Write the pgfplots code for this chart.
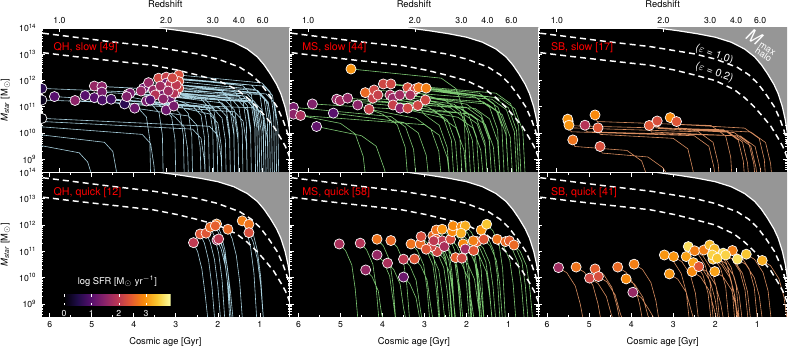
\documentclass[border=0pt]{standalone}
\usepackage{fontspec}
\setmainfont{TeX Gyre Heros}
\usepackage{pgfplots}
\pgfplotsset{compat=1.18}
\definecolor{haloGray}{RGB}{150,150,150}
\definecolor{qhc}{RGB}{168,208,222}
\definecolor{msc}{RGB}{125,200,115}
\definecolor{sbc}{RGB}{215,140,95}
\pgfplotsset{colormap={inferno}{rgb255=(0,0,4) rgb255=(31,12,72) rgb255=(85,15,109) rgb255=(136,34,106) rgb255=(186,54,85) rgb255=(227,89,51) rgb255=(249,140,10) rgb255=(249,201,50) rgb255=(252,255,164)}}
\tikzset{ttl/.style={anchor=west, text=red, font=\fontsize{8}{9}\selectfont}}
\pgfplotsset{
 panel/.style={
   scale only axis, width=186.5pt, height=108.375pt, anchor=north west,
   xmin=0.29, xmax=6.21, x dir=reverse, ymin=8.5, ymax=14,
   axis background/.style={fill=black},
   axis line style={white, line width=0.5pt},
   tick style={white, line width=0.5pt},
   major tick length=3pt, minor tick length=1.6pt,
   clip marker paths=true,
   ytick={9,10,11,12,13,14},
   minor ytick={8.602,8.699,8.778,8.845,8.903,8.954,9.301,9.477,9.602,9.699,9.778,9.845,9.903,9.954,10.301,10.477,10.602,10.699,10.778,10.845,10.903,10.954,11.301,11.477,11.602,11.699,11.778,11.845,11.903,11.954,12.301,12.477,12.602,12.699,12.778,12.845,12.903,12.954,13.301,13.477,13.602,13.699,13.778,13.845,13.903,13.954},
   yticklabels={}, xticklabels={},
   tick label style={font=\fontsize{6.5}{7}\selectfont, black},
   label style={font=\fontsize{7}{8}\selectfont},
   unbounded coords=jump,
   point meta min=0, point meta max=3.9, colormap name=inferno,
 },
 leftcol/.style={
   yticklabels={10\textsuperscript{9},10\textsuperscript{10},10\textsuperscript{11},10\textsuperscript{12},10\textsuperscript{13},10\textsuperscript{14}},
   ylabel={\textit{M}\textsubscript{\textit{star}} [M\textsubscript{$\odot$}]},
 },
 toprow/.style={xtick={5.77,3.23,2.12,1.50,0.93}, xticklabels={1.0,2.0,3.0,4.0,6.0}, xticklabel pos=upper, xlabel={Redshift}},
 botrow/.style={xtick={1,2,3,4,5,6}, xticklabels={1,2,3,4,5,6}, minor x tick num=1, xlabel={Cosmic age [Gyr]}},
 track/.style={line width=0.45pt},
 dots/.style={scatter, only marks, mark=*, mark size=3.8pt, point meta=explicit,
   scatter/use mapped color={draw=white, fill=mapped color, line width=0.5pt}},
}
\newcommand{\halofill}{%
\addplot[draw=none, fill=haloGray] coordinates {(6.4,14.75) (5.5,14.55) (4.5,14.32) (3.9,14.15) (3.37,14.0) (2.9,13.9) (2.42,13.78) (2.0,13.65) (1.62,13.46) (1.3,13.2) (1.06,12.9) (0.9,12.6) (0.75,12.25) (0.6,11.85) (0.5,11.5) (0.4,11.0) (0.33,10.5) (0.29,10.1) (0.25,9.5) (0.1,9.5) (0.1,15) (6.4,15)};
}
\newcommand{\halolines}{%
\addplot[white, line width=0.9pt] coordinates {(6.4,14.75) (5.5,14.55) (4.5,14.32) (3.9,14.15) (3.37,14.0) (2.9,13.9) (2.42,13.78) (2.0,13.65) (1.62,13.46) (1.3,13.2) (1.06,12.9) (0.9,12.6) (0.75,12.25) (0.6,11.85) (0.5,11.5) (0.4,11.0) (0.33,10.5) (0.29,10.1) (0.25,9.5)};
\addplot[white, line width=1.1pt, dash pattern=on 4.5pt off 3pt] coordinates {(6.4,13.85) (6.16,13.80) (5.5,13.67) (4.56,13.48) (3.54,13.29) (2.97,13.14) (2.51,13.02) (2.0,12.82) (1.47,12.50) (1.2,12.22) (0.99,11.90) (0.8,11.5) (0.59,11.0) (0.45,10.5) (0.36,10.1) (0.27,9.5) (0.22,9.0)};
\addplot[white, line width=1.1pt, dash pattern=on 4.5pt off 3pt] coordinates {(6.4,13.10) (6.16,13.06) (5.5,12.93) (4.56,12.76) (3.54,12.58) (2.97,12.40) (2.51,12.22) (2.0,12.00) (1.55,11.66) (1.3,11.35) (1.07,11.0) (0.85,10.6) (0.67,10.25) (0.5,9.8) (0.39,9.49) (0.27,9.0) (0.2,8.5)};
}
\begin{document}
\begin{tikzpicture}
\useasboundingbox (0,0) rectangle (594.75pt,260.25pt);
% ---------------- Panel 1: QH slow
\begin{axis}[panel, leftcol, toprow, at={(30.75pt,239.25pt)}]
\halofill
\addplot[track, qhc] coordinates {
(6.19,11.70) (1.50,11.40) (1.30,11.05) (1.22,10.20) (1.20,8.3) (nan,nan)
(6.19,11.26) (1.10,10.96) (0.90,10.61) (0.82,9.76) (0.80,8.3) (nan,nan)
(6.19,10.56) (2.20,10.26) (2.00,9.91) (1.92,9.06) (1.90,8.3) (nan,nan)
(5.89,11.39) (2.90,11.09) (2.70,10.74) (2.62,9.89) (2.60,8.3) (nan,nan)
(5.40,11.24) (1.80,10.94) (1.60,10.59) (1.52,9.74) (1.50,8.3) (nan,nan)
(5.16,11.43) (3.60,11.13) (3.40,10.78) (3.32,9.93) (3.30,8.3) (nan,nan)
(4.94,11.79) (1.30,11.49) (1.10,11.14) (1.02,10.29) (1.00,8.3) (nan,nan)
(4.94,11.35) (2.50,11.05) (2.30,10.70) (2.22,9.85) (2.20,8.3) (nan,nan)
(4.76,11.77) (1.00,11.47) (0.80,11.12) (0.72,10.27) (0.70,8.3) (nan,nan)
(4.76,11.56) (2.00,11.26) (1.80,10.91) (1.72,10.06) (1.70,8.3) (nan,nan)
(4.75,11.26) (3.90,10.96) (3.70,10.61) (3.62,9.76) (3.60,8.3) (nan,nan)
(4.54,11.29) (2.30,10.99) (2.10,10.64) (2.02,9.79) (2.00,8.3) (nan,nan)
(4.22,11.11) (1.60,10.81) (1.40,10.46) (1.32,9.61) (1.30,8.3) (nan,nan)
(4.14,11.48) (1.20,11.18) (1.00,10.83) (0.92,9.98) (0.90,8.3) (nan,nan)
(3.98,10.95) (2.70,10.65) (2.50,10.30) (2.42,9.45) (2.40,8.3) (nan,nan)
(3.77,11.71) (1.40,11.41) (1.20,11.06) (1.12,10.21) (1.10,8.3) (nan,nan)
(3.65,11.92) (1.05,11.62) (0.85,11.27) (0.77,10.42) (0.75,8.3) (nan,nan)
(3.70,11.22) (2.10,10.92) (1.90,10.57) (1.82,9.72) (1.80,8.3) (nan,nan)
(3.53,11.64) (1.70,11.34) (1.50,10.99) (1.42,10.14) (1.40,8.3) (nan,nan)
(3.41,12.09) (0.90,11.79) (0.70,11.44) (0.62,10.59) (0.60,8.3) (nan,nan)
(3.23,12.13) (1.20,11.83) (1.00,11.48) (0.92,10.63) (0.90,8.3) (nan,nan)
(3.23,11.90) (1.90,11.60) (1.70,11.25) (1.62,10.40) (1.60,8.3) (nan,nan)
(3.37,11.58) (2.30,11.28) (2.10,10.93) (2.02,10.08) (2.00,8.3) (nan,nan)
(3.29,11.52) (1.50,11.22) (1.30,10.87) (1.22,10.02) (1.20,8.3) (nan,nan)
(3.13,11.33) (2.60,11.03) (2.40,10.68) (2.32,9.83) (2.30,8.3) (nan,nan)
(3.01,11.52) (1.15,11.22) (0.95,10.87) (0.87,10.02) (0.85,8.3) (nan,nan)
(3.23,10.88) (3.00,10.58) (2.80,10.23) (2.72,9.38) (2.70,8.3) (nan,nan)
(3.05,11.03) (2.20,10.73) (2.00,10.38) (1.92,9.53) (1.90,8.3) (nan,nan)
(2.93,12.21) (0.95,11.91) (0.75,11.56) (0.67,10.71) (0.65,8.3) (nan,nan)
(2.93,11.96) (1.10,11.66) (0.90,11.31) (0.82,10.46) (0.80,8.3) (nan,nan)
(2.93,11.71) (1.35,11.41) (1.15,11.06) (1.07,10.21) (1.05,8.3) (nan,nan)
(3.05,11.52) (1.80,11.22) (1.60,10.87) (1.52,10.02) (1.50,8.3) (nan,nan)
(3.13,11.87) (1.60,11.57) (1.40,11.22) (1.32,10.37) (1.30,8.3) (nan,nan)
(2.99,11.83) (1.00,11.53) (0.80,11.18) (0.72,10.33) (0.70,8.3) (nan,nan)
(3.18,11.60) (2.40,11.30) (2.20,10.95) (2.12,10.10) (2.10,8.3) (nan,nan)
(3.49,11.45) (1.90,11.15) (1.70,10.80) (1.62,9.95) (1.60,8.3) (nan,nan)
(4.09,11.52) (1.30,11.22) (1.10,10.87) (1.02,10.02) (1.00,8.3) (nan,nan)
(4.17,11.39) (3.10,11.09) (2.90,10.74) (2.82,9.89) (2.80,8.3) (nan,nan)
(3.83,11.60) (1.25,11.30) (1.05,10.95) (0.97,10.10) (0.95,8.3) (nan,nan)
(3.08,12.10) (1.40,11.80) (1.20,11.45) (1.12,10.60) (1.10,8.3) (nan,nan)
(3.37,11.79) (0.85,11.49) (0.65,11.14) (0.57,10.29) (0.55,8.3) (nan,nan)
(3.30,11.30) (2.00,11.00) (1.80,10.65) (1.72,9.80) (1.70,8.3) (nan,nan)
(3.61,11.26) (3.30,10.96) (3.10,10.61) (3.02,9.76) (3.00,8.3) (nan,nan)
(6.30,10.25) (3.80,9.95) (3.60,9.60) (3.52,8.75) (3.50,8.3) (nan,nan)
(6.30,9.95) (4.70,9.65) (4.50,9.30) (4.42,8.60) (4.40,8.3) (nan,nan)
(6.30,9.55) (5.30,9.25) (5.10,8.90) (5.02,8.50) (5.00,8.3) (nan,nan)
(6.30,10.45) (2.60,10.15) (2.40,9.80) (2.32,8.95) (2.30,8.3)
};
\halolines
\addplot[dots] coordinates {
(6.19,11.70) [0.6] (6.19,11.26) [0.2] (6.19,10.56) [0.0] (5.89,11.39) [1.0] (5.40,11.24) [1.5]
(5.16,11.43) [1.0] (4.94,11.79) [1.6] (4.94,11.35) [1.0] (4.76,11.77) [1.5] (4.76,11.56) [1.3]
(4.75,11.26) [0.9] (4.54,11.29) [0.8] (4.22,11.11) [0.6] (4.14,11.48) [1.5] (3.98,10.95) [1.2]
(3.77,11.71) [1.2] (3.65,11.92) [1.6] (3.70,11.22) [1.3] (3.53,11.64) [1.6] (3.41,12.09) [2.2]
(3.23,12.13) [2.1] (3.23,11.90) [1.3] (3.37,11.58) [1.8] (3.29,11.52) [1.3] (3.13,11.33) [1.2]
(3.01,11.52) [1.4] (3.23,10.88) [1.2] (3.05,11.03) [1.3] (2.93,12.21) [2.3] (2.93,11.96) [2.3]
(2.93,11.71) [2.2] (3.05,11.52) [1.9] (3.13,11.87) [1.9] (2.99,11.83) [2.0] (3.18,11.60) [1.7]
(3.49,11.45) [1.9] (4.09,11.52) [1.3] (4.17,11.39) [1.4] (3.83,11.60) [1.6] (3.08,12.10) [2.2]
(3.37,11.79) [1.7] (3.30,11.30) [1.5] (3.61,11.26) [1.0]
};
\node[ttl] at (rel axis cs:0.032,0.862) {QH, slow [49]};
\end{axis}
% ---------------- Panel 2: MS slow
\begin{axis}[panel, toprow, at={(217.25pt,239.25pt)}]
\halofill
\addplot[track, msc] coordinates {
(4.75,12.44) (2.60,12.09) (2.25,11.69) (2.06,10.84) (2.00,8.3) (nan,nan)
(6.12,10.98) (3.80,10.63) (3.45,10.23) (3.26,9.38) (3.20,8.3) (nan,nan)
(6.12,10.72) (5.00,10.37) (4.65,9.97) (4.46,9.12) (4.40,8.3) (nan,nan)
(5.95,10.67) (3.00,10.32) (2.65,9.92) (2.46,9.07) (2.40,8.3) (nan,nan)
(5.67,11.11) (2.10,10.76) (1.75,10.36) (1.56,9.51) (1.50,8.3) (nan,nan)
(5.57,10.25) (4.50,9.90) (4.15,9.50) (3.96,8.65) (3.90,8.3) (nan,nan)
(5.17,10.76) (3.50,10.41) (3.15,10.01) (2.96,9.16) (2.90,8.3) (nan,nan)
(5.09,11.29) (1.80,10.94) (1.45,10.54) (1.26,9.69) (1.20,8.3) (nan,nan)
(5.01,11.24) (2.80,10.89) (2.45,10.49) (2.26,9.64) (2.20,8.3) (nan,nan)
(4.83,11.33) (2.40,10.98) (2.05,10.58) (1.86,9.73) (1.80,8.3) (nan,nan)
(4.59,11.07) (4.00,10.72) (3.65,10.32) (3.46,9.47) (3.40,8.3) (nan,nan)
(4.41,11.54) (1.60,11.19) (1.25,10.79) (1.06,9.94) (1.00,8.3) (nan,nan)
(4.32,10.91) (3.20,10.56) (2.85,10.16) (2.66,9.31) (2.60,8.3) (nan,nan)
(4.23,11.33) (2.00,10.98) (1.65,10.58) (1.46,9.73) (1.40,8.3) (nan,nan)
(4.20,11.64) (1.40,11.29) (1.05,10.89) (0.86,10.04) (0.80,8.3) (nan,nan)
(4.11,11.45) (2.70,11.10) (2.35,10.70) (2.16,9.85) (2.10,8.3) (nan,nan)
(3.98,11.87) (1.70,11.52) (1.35,11.12) (1.16,10.27) (1.10,8.3) (nan,nan)
(3.80,11.87) (1.30,11.52) (0.95,11.12) (0.76,10.27) (0.70,8.3) (nan,nan)
(3.82,11.45) (2.30,11.10) (1.95,10.70) (1.76,9.85) (1.70,8.3) (nan,nan)
(3.75,11.33) (2.90,10.98) (2.55,10.58) (2.36,9.73) (2.30,8.3) (nan,nan)
(3.75,11.07) (1.90,10.72) (1.55,10.32) (1.36,9.47) (1.30,8.3) (nan,nan)
(3.59,11.45) (1.50,11.10) (1.15,10.70) (0.96,9.85) (0.90,8.3) (nan,nan)
(3.58,10.95) (2.60,10.60) (2.25,10.20) (2.06,9.35) (2.00,8.3) (nan,nan)
(3.40,11.73) (1.80,11.38) (1.45,10.98) (1.26,10.13) (1.20,8.3) (nan,nan)
(3.40,10.95) (2.20,10.60) (1.85,10.20) (1.66,9.35) (1.60,8.3) (nan,nan)
(3.27,11.58) (2.50,11.23) (2.15,10.83) (1.96,9.98) (1.90,8.3) (nan,nan)
(3.22,11.68) (1.20,11.33) (0.85,10.93) (0.66,10.08) (0.60,8.3) (nan,nan)
(3.14,11.73) (1.60,11.38) (1.25,10.98) (1.06,10.13) (1.00,8.3) (nan,nan)
(2.96,11.71) (1.35,11.36) (1.00,10.96) (0.81,10.11) (0.75,8.3) (nan,nan)
(2.98,11.26) (2.10,10.91) (1.75,10.51) (1.56,9.66) (1.50,8.3) (nan,nan)
(3.16,11.05) (3.00,10.70) (2.65,10.30) (2.46,9.45) (2.40,8.3) (nan,nan)
(3.34,11.45) (2.00,11.10) (1.65,10.70) (1.46,9.85) (1.40,8.3)
};
\halolines
\addplot[dots] coordinates {
(4.75,12.44) [3.0] (6.12,10.98) [1.3] (6.12,10.72) [1.5] (5.95,10.67) [1.8] (5.67,11.11) [1.4]
(5.57,10.25) [1.1] (5.17,10.76) [1.0] (5.09,11.29) [1.6] (5.01,11.24) [1.7] (4.83,11.33) [1.6]
(4.59,11.07) [1.5] (4.41,11.54) [2.6] (4.32,10.91) [2.1] (4.23,11.33) [2.1] (4.20,11.64) [2.2]
(4.11,11.45) [2.1] (3.98,11.87) [2.2] (3.80,11.87) [2.2] (3.82,11.45) [1.8] (3.75,11.33) [1.6]
(3.75,11.07) [2.1] (3.59,11.45) [1.7] (3.58,10.95) [1.5] (3.40,11.73) [2.3] (3.40,10.95) [2.2]
(3.27,11.58) [1.9] (3.22,11.68) [2.2] (3.14,11.73) [2.7] (2.96,11.71) [2.8] (2.98,11.26) [2.2]
(3.16,11.05) [2.2] (3.34,11.45) [1.8]
};
\node[ttl] at (rel axis cs:0.032,0.862) {MS, slow [44]};
\end{axis}
% ---------------- Panel 3: SB slow
\begin{axis}[panel, toprow, at={(403.75pt,239.25pt)}]
\halofill
\addplot[track, sbc] coordinates {
(5.51,10.53) (5.46,10.28) (1.80,10.13) (1.45,9.73) (1.33,8.93) (1.30,8.3) (nan,nan)
(5.48,10.30) (5.43,10.05) (2.50,9.90) (2.15,9.50) (2.03,8.70) (2.00,8.3) (nan,nan)
(5.10,10.30) (5.05,10.05) (1.50,9.90) (1.15,9.50) (1.03,8.70) (1.00,8.3) (nan,nan)
(4.86,10.69) (4.81,10.44) (2.10,10.29) (1.75,9.89) (1.63,9.09) (1.60,8.3) (nan,nan)
(4.79,10.20) (4.74,9.95) (3.00,9.80) (2.65,9.40) (2.53,8.60) (2.50,8.3) (nan,nan)
(5.39,9.74) (5.34,9.49) (4.10,9.34) (3.75,8.94) (3.63,8.40) (3.60,8.3) (nan,nan)
(4.74,9.49) (4.69,9.24) (3.60,9.09) (3.25,8.69) (3.13,8.40) (3.10,8.3) (nan,nan)
(3.57,10.29) (3.52,10.04) (1.40,9.89) (1.05,9.49) (0.93,8.69) (0.90,8.3) (nan,nan)
(3.38,10.46) (3.33,10.21) (1.70,10.06) (1.35,9.66) (1.23,8.86) (1.20,8.3) (nan,nan)
(3.07,10.59) (3.02,10.34) (1.30,10.19) (0.95,9.79) (0.83,8.99) (0.80,8.3) (nan,nan)
(2.92,10.44) (2.87,10.19) (1.15,10.04) (0.80,9.64) (0.68,8.84) (0.65,8.3) (nan,nan)
(5.50,10.45) (5.45,10.20) (2.40,10.05) (2.05,9.65) (1.93,8.85) (1.90,8.3) (nan,nan)
(3.40,10.42) (3.35,10.17) (1.55,10.02) (1.20,9.62) (1.08,8.82) (1.05,8.3)
};
\halolines
\addplot[dots] coordinates {
(5.50,10.45) [3.0] (3.40,10.42) [2.3]
(5.51,10.53) [3.0] (5.48,10.30) [3.0] (5.10,10.30) [1.9] (4.86,10.69) [2.9] (4.79,10.20) [2.4]
(5.39,9.74) [2.7] (4.74,9.49) [2.3] (3.57,10.29) [2.4] (3.38,10.46) [2.3] (3.07,10.59) [2.9]
(2.92,10.44) [2.4]
};
\node[ttl] at (rel axis cs:0.032,0.862) {SB, slow [17]};
\node[white, rotate=-20, font=\fontsize{8}{9}\selectfont] at (axis cs:2.02,12.99) {($\varepsilon$ = 1.0)};
\node[white, rotate=-20, font=\fontsize{8}{9}\selectfont] at (axis cs:2.02,12.30) {($\varepsilon$ = 0.2)};
\node[white, rotate=-32, inner sep=0pt] at (axis cs:0.94,13.32) {\fontsize{13}{13}\selectfont\textit{M}\kern0.6pt\raisebox{-3pt}{\fontsize{7}{7}\selectfont\begin{tabular}{@{}l@{}}max\\[-1.5pt]halo\end{tabular}}};
\end{axis}
% ---------------- Panel 4: QH quick
\begin{axis}[panel, leftcol, botrow, at={(30.75pt,130.875pt)},
  colorbar horizontal,
  colorbar style={at={(parent axis.south west)}, anchor=south west, xshift=17.25pt, yshift=17.25pt,
    scale only axis, width=80pt, height=8.25pt,
    xtick={0,1,2,3}, xticklabels={0,1,2,3},
    xticklabel style={white, font=\fontsize{6.5}{7}\selectfont},
    major tick length=2pt, tick style={white},
    axis line style={draw=none},
    title={log SFR [M\textsubscript{$\odot$} yr\textsuperscript{$-$1}]},
    title style={white, font=\fontsize{7}{8}\selectfont, yshift=-4pt}}]
\halofill
\addplot[track, qhc] coordinates {
(2.58,11.33) (2.48,10.98) (2.38,10.33) (2.30,9.33) (2.23,8.3) (nan,nan)
(2.42,11.66) (2.32,11.31) (2.22,10.66) (2.14,9.66) (2.07,8.3) (nan,nan)
(2.28,11.69) (2.18,11.34) (2.08,10.69) (2.00,9.69) (1.93,8.3) (nan,nan)
(2.18,11.92) (2.08,11.57) (1.98,10.92) (1.90,9.92) (1.83,8.3) (nan,nan)
(2.03,12.04) (1.93,11.69) (1.83,11.04) (1.75,10.04) (1.68,8.3) (nan,nan)
(2.02,11.43) (1.92,11.08) (1.82,10.43) (1.74,9.43) (1.67,8.3) (nan,nan)
(1.98,11.47) (1.88,11.12) (1.78,10.47) (1.70,9.47) (1.63,8.3) (nan,nan)
(1.76,11.84) (1.66,11.49) (1.56,10.84) (1.48,9.84) (1.41,8.3) (nan,nan)
(1.42,12.16) (1.32,11.81) (1.22,11.16) (1.14,10.16) (1.07,8.3) (nan,nan)
(1.26,12.03) (1.16,11.68) (1.06,11.03) (0.98,10.03) (0.91,8.3) (nan,nan)
(1.26,11.71) (1.16,11.36) (1.06,10.71) (0.98,9.71) (0.91,8.3) (nan,nan)
(2.06,11.97) (1.96,11.62) (1.86,10.97) (1.78,9.97) (1.71,8.3)
};
\halolines
\addplot[dots] coordinates {
(2.58,11.33) [2.0] (2.42,11.66) [2.4] (2.28,11.69) [2.4] (2.18,11.92) [2.6] (2.03,12.04) [2.8]
(2.02,11.43) [1.7] (1.98,11.47) [2.0] (1.76,11.84) [2.6] (1.42,12.16) [2.8] (1.26,12.03) [2.7]
(1.26,11.71) [2.3] (2.06,11.97) [2.5]
};
\node[ttl] at (rel axis cs:0.032,0.862) {QH, quick [12]};
\end{axis}
% ---------------- Panel 5: MS quick
\begin{axis}[panel, botrow, at={(217.25pt,130.875pt)}]
\halofill
\addplot[track, msc] coordinates {
(5.03,11.28) (4.88,11.03) (4.73,10.48) (4.65,9.58) (4.58,8.3) (nan,nan)
(4.53,11.31) (4.38,11.06) (4.23,10.51) (4.15,9.61) (4.08,8.3) (nan,nan)
(4.13,11.46) (3.98,11.21) (3.83,10.66) (3.75,9.76) (3.68,8.3) (nan,nan)
(3.80,11.41) (3.65,11.16) (3.50,10.61) (3.42,9.71) (3.35,8.3) (nan,nan)
(4.13,10.86) (3.98,10.61) (3.83,10.06) (3.75,9.16) (3.68,8.3) (nan,nan)
(3.88,10.55) (3.73,10.30) (3.58,9.75) (3.50,8.85) (3.43,8.3) (nan,nan)
(4.40,10.29) (4.25,10.04) (4.10,9.49) (4.02,8.59) (3.95,8.3) (nan,nan)
(3.50,10.70) (3.35,10.45) (3.20,9.90) (3.12,9.00) (3.05,8.3) (nan,nan)
(3.24,10.71) (3.09,10.46) (2.94,9.91) (2.86,9.01) (2.79,8.3) (nan,nan)
(3.50,10.02) (3.35,9.77) (3.20,9.22) (3.12,8.50) (3.05,8.3) (nan,nan)
(3.32,11.28) (3.17,11.03) (3.02,10.48) (2.94,9.58) (2.87,8.3) (nan,nan)
(3.10,11.28) (2.95,11.03) (2.80,10.48) (2.72,9.58) (2.65,8.3) (nan,nan)
(3.08,11.56) (2.93,11.31) (2.78,10.76) (2.70,9.86) (2.63,8.3) (nan,nan)
(2.80,11.59) (2.65,11.34) (2.50,10.79) (2.42,9.89) (2.35,8.3) (nan,nan)
(2.72,11.81) (2.57,11.56) (2.42,11.01) (2.34,10.11) (2.27,8.3) (nan,nan)
(2.58,11.84) (2.43,11.59) (2.28,11.04) (2.20,10.14) (2.13,8.3) (nan,nan)
(2.72,11.46) (2.57,11.21) (2.42,10.66) (2.34,9.76) (2.27,8.3) (nan,nan)
(2.58,11.40) (2.43,11.15) (2.28,10.60) (2.20,9.70) (2.13,8.3) (nan,nan)
(2.70,10.99) (2.55,10.74) (2.40,10.19) (2.32,9.29) (2.25,8.3) (nan,nan)
(2.53,11.18) (2.38,10.93) (2.23,10.38) (2.15,9.48) (2.08,8.3) (nan,nan)
(2.38,11.46) (2.23,11.21) (2.08,10.66) (2.00,9.76) (1.93,8.3) (nan,nan)
(2.34,11.75) (2.19,11.50) (2.04,10.95) (1.96,10.05) (1.89,8.3) (nan,nan)
(2.32,11.97) (2.17,11.72) (2.02,11.17) (1.94,10.27) (1.87,8.3) (nan,nan)
(2.12,11.94) (1.97,11.69) (1.82,11.14) (1.74,10.24) (1.67,8.3) (nan,nan)
(2.03,11.97) (1.88,11.72) (1.73,11.17) (1.65,10.27) (1.58,8.3) (nan,nan)
(2.13,11.69) (1.98,11.44) (1.83,10.89) (1.75,9.99) (1.68,8.3) (nan,nan)
(2.08,11.28) (1.93,11.03) (1.78,10.48) (1.70,9.58) (1.63,8.3) (nan,nan)
(2.03,11.09) (1.88,10.84) (1.73,10.29) (1.65,9.39) (1.58,8.3) (nan,nan)
(2.26,10.76) (2.11,10.51) (1.96,9.96) (1.88,9.06) (1.81,8.3) (nan,nan)
(2.11,10.74) (1.96,10.49) (1.81,9.94) (1.73,9.04) (1.66,8.3) (nan,nan)
(1.83,11.03) (1.68,10.78) (1.53,10.23) (1.45,9.33) (1.38,8.3) (nan,nan)
(1.75,11.37) (1.60,11.12) (1.45,10.57) (1.37,9.67) (1.30,8.3) (nan,nan)
(1.65,11.81) (1.50,11.56) (1.35,11.01) (1.27,10.11) (1.20,8.3) (nan,nan)
(1.52,12.03) (1.37,11.78) (1.22,11.23) (1.14,10.33) (1.07,8.3) (nan,nan)
(1.59,11.46) (1.44,11.21) (1.29,10.66) (1.21,9.76) (1.14,8.3) (nan,nan)
(1.27,11.46) (1.12,11.21) (0.97,10.66) (0.89,9.76) (0.82,8.3) (nan,nan)
(1.07,11.37) (0.92,11.12) (0.77,10.57) (0.69,9.67) (0.62,8.3) (nan,nan)
(0.98,11.40) (0.83,11.15) (0.68,10.60) (0.60,9.70) (0.53,8.3) (nan,nan)
(0.87,11.24) (0.72,10.99) (0.57,10.44) (0.49,9.54) (0.42,8.3) (nan,nan)
(2.84,11.18) (2.69,10.93) (2.54,10.38) (2.46,9.48) (2.39,8.3) (nan,nan)
(2.96,11.08) (2.81,10.83) (2.66,10.28) (2.58,9.38) (2.51,8.3) (nan,nan)
(2.78,11.40) (2.63,11.15) (2.48,10.60) (2.40,9.70) (2.33,8.3) (nan,nan)
(1.84,11.40) (1.69,11.15) (1.54,10.60) (1.46,9.70) (1.39,8.3)
};
\halolines
\addplot[dots] coordinates {
(5.03,11.28) [1.8] (4.53,11.31) [1.9] (4.13,11.46) [2.7] (3.80,11.41) [2.6] (4.13,10.86) [1.6]
(3.88,10.55) [1.8] (4.40,10.29) [1.6] (3.50,10.70) [2.0] (3.24,10.71) [2.4] (3.50,10.02) [1.2]
(3.32,11.28) [2.7] (3.10,11.28) [2.6] (3.08,11.56) [2.3] (2.80,11.59) [2.6] (2.72,11.81) [2.7]
(2.58,11.84) [3.0] (2.72,11.46) [2.5] (2.58,11.40) [2.0] (2.70,10.99) [2.2] (2.53,11.18) [1.8]
(2.38,11.46) [2.3] (2.34,11.75) [2.9] (2.32,11.97) [2.9] (2.12,11.94) [2.9] (2.03,11.97) [3.2]
(2.13,11.69) [3.2] (2.08,11.28) [2.9] (2.03,11.09) [1.7] (2.26,10.76) [2.5] (2.11,10.74) [2.2]
(1.83,11.03) [2.4] (1.75,11.37) [2.5] (1.65,11.81) [3.0] (1.52,12.03) [3.4] (1.59,11.46) [2.4]
(1.27,11.46) [2.7] (1.07,11.37) [2.6] (0.98,11.40) [2.5] (0.87,11.24) [2.6] (2.84,11.18) [2.2]
(2.96,11.08) [2.4] (2.78,11.40) [2.0] (1.84,11.40) [2.8]
};
\node[ttl] at (rel axis cs:0.032,0.862) {MS, quick [58]};
\end{axis}
% ---------------- Panel 6: SB quick
\begin{axis}[panel, botrow, at={(403.75pt,130.875pt)}]
\halofill
\addplot[track, sbc] coordinates {
(5.73,10.38) (5.53,10.18) (5.33,9.68) (5.21,8.98) (5.13,8.3) (nan,nan)
(5.31,10.40) (5.11,10.20) (4.91,9.70) (4.79,9.00) (4.71,8.3) (nan,nan)
(4.86,10.33) (4.66,10.13) (4.46,9.63) (4.34,8.93) (4.26,8.3) (nan,nan)
(4.99,9.98) (4.79,9.78) (4.59,9.28) (4.47,8.58) (4.39,8.3) (nan,nan)
(4.78,10.04) (4.58,9.84) (4.38,9.34) (4.26,8.64) (4.18,8.3) (nan,nan)
(4.32,10.40) (4.12,10.20) (3.92,9.70) (3.80,9.00) (3.72,8.3) (nan,nan)
(3.93,10.51) (3.73,10.31) (3.53,9.81) (3.41,9.11) (3.33,8.3) (nan,nan)
(4.12,9.95) (3.92,9.75) (3.72,9.25) (3.60,8.55) (3.52,8.3) (nan,nan)
(3.96,9.44) (3.76,9.24) (3.56,8.74) (3.44,8.40) (3.36,8.3) (nan,nan)
(3.21,10.86) (3.01,10.66) (2.81,10.16) (2.69,9.46) (2.61,8.3) (nan,nan)
(2.99,10.80) (2.79,10.60) (2.59,10.10) (2.47,9.40) (2.39,8.3) (nan,nan)
(3.09,10.14) (2.89,9.94) (2.69,9.44) (2.57,8.74) (2.49,8.3) (nan,nan)
(2.69,10.80) (2.49,10.60) (2.29,10.10) (2.17,9.40) (2.09,8.3) (nan,nan)
(2.64,11.18) (2.44,10.98) (2.24,10.48) (2.12,9.78) (2.04,8.3) (nan,nan)
(2.49,11.02) (2.29,10.82) (2.09,10.32) (1.97,9.62) (1.89,8.3) (nan,nan)
(2.52,10.57) (2.32,10.37) (2.12,9.87) (2.00,9.17) (1.92,8.3) (nan,nan)
(2.55,10.23) (2.35,10.03) (2.15,9.53) (2.03,8.83) (1.95,8.3) (nan,nan)
(2.39,10.42) (2.19,10.22) (1.99,9.72) (1.87,9.02) (1.79,8.3) (nan,nan)
(2.27,11.05) (2.07,10.85) (1.87,10.35) (1.75,9.65) (1.67,8.3) (nan,nan)
(2.13,11.24) (1.93,11.04) (1.73,10.54) (1.61,9.84) (1.53,8.3) (nan,nan)
(2.02,11.09) (1.82,10.89) (1.62,10.39) (1.50,9.69) (1.42,8.3) (nan,nan)
(2.05,10.70) (1.85,10.50) (1.65,10.00) (1.53,9.30) (1.45,8.3) (nan,nan)
(2.01,10.23) (1.81,10.03) (1.61,9.53) (1.49,8.83) (1.41,8.3) (nan,nan)
(2.07,10.86) (1.87,10.66) (1.67,10.16) (1.55,9.46) (1.47,8.3) (nan,nan)
(1.81,10.93) (1.61,10.73) (1.41,10.23) (1.29,9.53) (1.21,8.3) (nan,nan)
(1.59,11.03) (1.39,10.83) (1.19,10.33) (1.07,9.63) (0.99,8.3) (nan,nan)
(1.47,10.70) (1.27,10.50) (1.07,10.00) (0.95,9.30) (0.87,8.3) (nan,nan)
(1.26,10.89) (1.06,10.69) (0.86,10.19) (0.74,9.49) (0.66,8.3) (nan,nan)
(0.88,10.65) (0.68,10.45) (0.48,9.95) (0.36,9.25) (0.28,8.3) (nan,nan)
(1.95,10.74) (1.75,10.54) (1.55,10.04) (1.43,9.34) (1.35,8.3) (nan,nan)
(1.75,10.86) (1.55,10.66) (1.35,10.16) (1.23,9.46) (1.15,8.3)
};
\halolines
\addplot[dots] coordinates {
(5.73,10.38) [1.7] (5.31,10.40) [2.7] (4.86,10.33) [2.5] (4.99,9.98) [2.2] (4.78,10.04) [2.3]
(4.32,10.40) [2.6] (3.93,10.51) [2.8] (4.12,9.95) [2.9] (3.96,9.44) [1.6] (3.21,10.86) [3.0]
(2.99,10.80) [3.0] (3.09,10.14) [3.0] (2.69,10.80) [3.1] (2.64,11.18) [3.6] (2.49,11.02) [2.8]
(2.52,10.57) [3.1] (2.55,10.23) [2.9] (2.39,10.42) [2.4] (2.27,11.05) [2.8] (2.13,11.24) [3.3]
(2.02,11.09) [3.3] (2.05,10.70) [3.3] (2.01,10.23) [3.1] (2.07,10.86) [3.5] (1.81,10.93) [3.6]
(1.59,11.03) [2.8] (1.47,10.70) [3.6] (1.26,10.89) [3.4] (0.88,10.65) [3.2] (1.95,10.74) [3.4]
(1.75,10.86) [3.5]
};
\node[ttl] at (rel axis cs:0.032,0.862) {SB, quick [41]};
\end{axis}
\end{tikzpicture}
\end{document}
